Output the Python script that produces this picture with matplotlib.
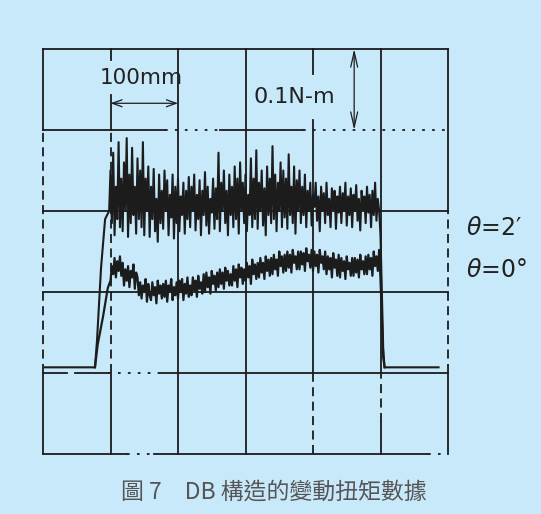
import numpy as np
import matplotlib.pyplot as plt

# x in mm, y in N·m  (one grid division = 100 mm across, 0.1 N·m up)
ink = '#1c1c1c'
bg = '#c8e9fa'

x_start = 98
x_step = 2

# theta = 2' trace, mN·m, every 2 mm from 98 mm
upper_mNm = [
    300, 350, 285, 372, 270, 330, 290, 385, 280, 340,
    275, 360, 300, 390, 268, 345, 285, 378, 295, 330,
    272, 365, 290, 350, 280, 385, 270, 340, 300, 355,
    268, 330, 290, 352, 275, 315, 262, 345, 285, 325,
    278, 350, 300, 338, 270, 320, 292, 345, 266, 330,
    285, 340, 275, 318, 295, 335, 272, 325, 290, 342,
    280, 330, 300, 345, 276, 320, 290, 338, 270, 325,
    295, 348, 282, 330, 272, 315, 298, 340, 278, 328,
    290, 372, 275, 335, 300, 350, 285, 325, 270, 345,
    295, 330, 280, 355, 290, 340, 272, 360, 300, 335,
    285, 345, 275, 320, 295, 365, 280, 340, 290, 375,
    278, 335, 300, 350, 282, 328, 270, 355, 295, 340,
    285, 380, 290, 345, 275, 335, 300, 360, 280, 350,
    292, 340, 278, 370, 295, 330, 285, 355, 272, 338,
    300, 350, 285, 330, 295, 345, 280, 325, 300, 335,
    282, 320, 305, 335, 288, 318, 275, 330, 300, 322,
    285, 335, 295, 315, 280, 328, 302, 325, 278, 318,
    298, 330, 285, 322, 300, 335, 282, 318, 295, 328,
    280, 320, 300, 332, 288, 315, 276, 325, 302, 318,
    285, 330, 298, 320, 280, 325, 295, 335, 288, 315,
    300,
]

# theta = 0 deg trace, mN·m, every 2 mm from 100 mm
lower_start = 100
lower_mNm = [
    214, 232, 222, 242, 218, 238, 226, 244, 220, 236,
    208, 228, 214, 232, 206, 226, 218, 234, 204, 224,
    218, 196, 212, 192, 208, 200, 216, 188, 210, 196,
    190, 212, 196, 206, 186, 214, 198, 208, 192, 210,
    194, 214, 188, 208, 200, 216, 190, 206, 196, 212,
    192, 214, 200, 216, 190, 210, 198, 218, 194, 208,
    196, 218, 202, 214, 194, 220, 204, 212, 198, 222,
    200, 224, 206, 218, 198, 226, 210, 220, 202, 224,
    206, 228, 210, 224, 204, 230, 214, 226, 208, 222,
    208, 232, 214, 228, 206, 234, 218, 230, 210, 228,
    214, 236, 218, 232, 210, 240, 222, 234, 216, 236,
    218, 242, 224, 236, 216, 244, 226, 240, 220, 242,
    222, 246, 228, 240, 220, 250, 232, 244, 224, 246,
    226, 250, 230, 246, 224, 252, 236, 244, 228, 250,
    228, 250, 234, 248, 226, 254, 238, 246, 230, 252,
    226, 250, 232, 246, 224, 252, 236, 244, 228, 250,
    222, 244, 228, 242, 218, 248, 230, 240, 220, 246,
    218, 242, 226, 238, 216, 244, 228, 236, 220, 242,
    220, 242, 224, 240, 218, 246, 228, 238, 222, 244,
    222, 246, 228, 242, 220, 250, 232, 244, 226, 252,
]

baseline = 0.107
left_base_x = [3, 77]
right_base_x = [506, 586]

upper_ramp_x = [77, 80, 86, 92]
upper_ramp_y = [0.107, 0.14, 0.23, 0.29]
lower_ramp_x = [77, 81, 89, 96]
lower_ramp_y = [0.107, 0.135, 0.17, 0.205]
drop_x = [500, 502, 504, 506]
upper_drop_y = [0.27, 0.20, 0.13, 0.107]
lower_drop_y = [0.215, 0.17, 0.12, 0.107]

# grid pieces: (position, start, end, style)
dash = (0, (5, 3))
dots = (0, (1.5, 4))
v_lines = [
    (0, 0.4, 0.5, '-'), (0, 0.1, 0.4, dash), (0, 0.0, 0.1, '-'),
    (100, 0.487, 0.5, '-'), (100, 0.4, 0.443, '-'), (100, 0.1, 0.4, dash), (100, 0.0, 0.1, '-'),
    (200, 0.0, 0.5, '-'), (300, 0.0, 0.5, '-'),
    (400, 0.469, 0.5, '-'), (400, 0.1, 0.412, '-'), (400, 0.0, 0.1, dash),
    (500, 0.1, 0.5, '-'), (500, 0.04, 0.1, dash), (500, 0.0, 0.04, '-'),
    (600, 0.3, 0.5, '-'), (600, 0.1, 0.3, dash), (600, 0.0, 0.1, '-'),
]
h_lines = [
    (0.5, 0, 600, '-'),
    (0.4, 0, 180, '-'), (0.4, 180, 262, dots), (0.4, 262, 385, '-'), (0.4, 385, 600, dots),
    (0.3, 0, 600, '-'), (0.2, 0, 600, '-'),
    (0.1, 0, 35, '-'), (0.1, 47, 97, '-'), (0.1, 97, 175, dots), (0.1, 175, 600, '-'),
    (0.0, 0, 125, '-'), (0.0, 125, 165, dots), (0.0, 165, 570, '-'), (0.0, 570, 600, dots),
]

fig = plt.figure(figsize=(5.41, 5.14), dpi=100, facecolor=bg)
ax = fig.add_axes([43 / 541, 60 / 514, 405 / 541, 405 / 514])
ax.set_facecolor(bg)
ax.set_xlim(0, 600)
ax.set_ylim(0, 0.5)
ax.axis('off')

for x, y0, y1, ls in v_lines:
    ax.plot([x, x], [y0, y1], color=ink, lw=1.3, ls=ls, clip_on=False)
for y, x0, x1, ls in h_lines:
    ax.plot([x0, x1], [y, y], color=ink, lw=1.3, ls=ls, clip_on=False)

upper_x = x_start + x_step * np.arange(len(upper_mNm))
lower_x = lower_start + x_step * np.arange(len(lower_mNm))
upper_y = np.array(upper_mNm) / 1000
lower_y = np.array(lower_mNm) / 1000

ux = np.concatenate([left_base_x, upper_ramp_x, upper_x, drop_x, right_base_x])
uy = np.concatenate([[baseline, baseline], upper_ramp_y, upper_y, upper_drop_y, [baseline, baseline]])
lx = np.concatenate([lower_ramp_x, lower_x, drop_x])
ly = np.concatenate([lower_ramp_y, lower_y, lower_drop_y])

ax.plot(ux, uy, color=ink, lw=1.5)
ax.plot(lx, ly, color=ink, lw=1.6)

# scale markers
ax.annotate('', xy=(100, 0.433), xytext=(200, 0.433),
            arrowprops=dict(arrowstyle='<->,head_length=0.7,head_width=0.25',
                            lw=0.9, color=ink, shrinkA=0, shrinkB=0))
ax.annotate('', xy=(461, 0.5), xytext=(461, 0.4),
            arrowprops=dict(arrowstyle='<->,head_length=1.1,head_width=0.25',
                            lw=0.9, color=ink, shrinkA=0, shrinkB=0))
ax.text(146, 0.464, '100mm', ha='center', va='center', fontsize=15.5,
        color='#222222')
ax.text(372, 0.4407, '0.1N-m', ha='center', va='center', fontsize=16,
        color='#222222')

fig.text(466 / 541, 1 - 228 / 514, r'$\theta$=2′', ha='left', va='center',
         fontsize=17, color='#222222')
fig.text(466 / 541, 1 - 270 / 514, r'$\theta$=0°', ha='left', va='center',
         fontsize=17, color='#222222')

fig.text(274 / 541, 1 - 492 / 514, '圖 7　DB 構造的變動扭矩數據', ha='center', va='center',
         fontsize=16.5, color='#555555', family=['Noto Sans CJK TC', 'DejaVu Sans'])

fig.savefig('out.png', dpi=100, facecolor=bg)
